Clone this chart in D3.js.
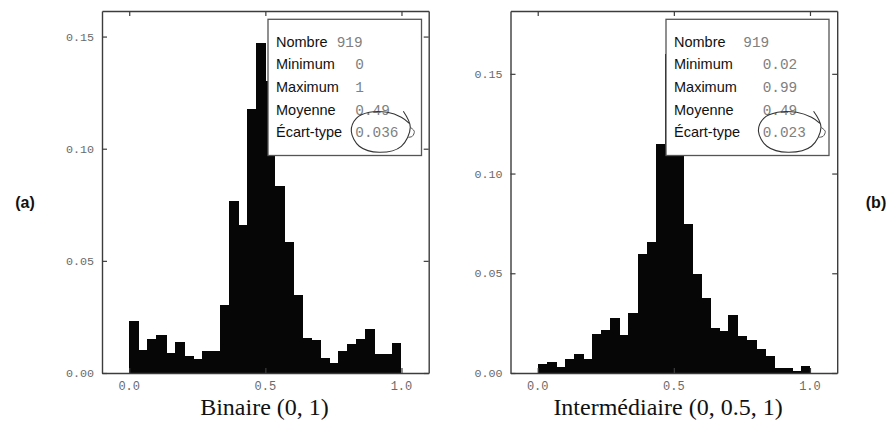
<!DOCTYPE html>
<html><head><meta charset="utf-8">
<script src="https://cdn.jsdelivr.net/npm/d3@7"></script>
<style>body{margin:0;background:#fff}svg{display:block}</style>
</head><body>
<script>
// ---- data ----
const binEdges = d3.range(0, 30).map(i => i / 30);
const binWidth = 1 / 30;
const valuesA = [0.023, 0.0104, 0.015, 0.017, 0.009, 0.014, 0.0076, 0.0064, 0.0096, 0.0096,
                 0.0304, 0.0767, 0.066, 0.1175, 0.147, 0.130, 0.0835, 0.0586, 0.0346, 0.0156,
                 0.0148, 0.0067, 0.0045, 0.0096, 0.013, 0.015, 0.0194, 0.0086, 0.0086, 0.0134];
const valuesB = [0.0043, 0.0055, 0.003, 0.007, 0.0095, 0.007, 0.0194, 0.0217, 0.0278, 0.0192,
                 0.030, 0.0595, 0.0655, 0.115, 0.160, 0.145, 0.0749, 0.0498, 0.0376, 0.0227,
                 0.021, 0.0293, 0.0184, 0.0164, 0.012, 0.0084, 0.0025, 0.0025, 0.001, 0.0033];
const xTicks = [0, 0.5, 1.0];
const xTickLabels = ["0.0", "0.5", "1.0"];
const yTicks = [0, 0.05, 0.10, 0.15];
const yTickLabels = ["0.00", "0.05", "0.10", "0.15"];
const statLabels = ["Nombre", "Minimum", "Maximum", "Moyenne", "Écart-type"];
const statsA = ["919", "0", "1", "0.49", "0.036"];
const statsB = ["919", "0.02", "0.99", "0.49", "0.023"];
const titleA = "Binaire (0, 1)";
const titleB = "Intermédiaire (0, 0.5, 1)";
const panelTags = ["(a)", "(b)"];

// ---- layout ----
const W = 893, H = 429;
const svg = d3.select("body").append("svg").attr("width", W).attr("height", H);

const panels = [
  {values: valuesA, stats: statsA, title: titleA, x0: 102, x1: 428.7, yMax: 0.1614,
   box: [268, 19.3, 421.5, 155.5], nombreX: 336.7, valX: 355.3, titleX: 264.5},
  {values: valuesB, stats: statsB, title: titleB, x0: 510.5, x1: 837.2, yMax: 0.1815,
   box: [666, 19.3, 829, 155.5], nombreX: 743.3, valX: 762.7, titleX: 668}
];
const plotTop = 11, plotBottom = 373;
const frameColor = "#3c3c3c";

panels.forEach((p, pi) => {
  const x = d3.scaleLinear().domain([-0.1, 1.1]).range([p.x0, p.x1]);
  const y = d3.scaleLinear().domain([0, p.yMax]).range([plotBottom, plotTop]);
  const g = svg.append("g");

  // bars (crisp, slightly overlapping so no seams appear between neighbours)
  g.selectAll("rect.bar").data(p.values).join("rect")
    .attr("class", "bar")
    .attr("shape-rendering", "crispEdges")
    .attr("x", (d, i) => Math.round(x(binEdges[i])))
    .attr("width", (d, i) => Math.round(x(binEdges[i] + binWidth)) - Math.round(x(binEdges[i])) + (i < p.values.length - 1 ? 1 : 0))
    .attr("y", d => Math.round(y(d)))
    .attr("height", d => Math.round(y(0)) - Math.round(y(d)))
    .attr("fill", "#060606");

  // frame with inward ticks using d3 axes
  const axB = d3.axisBottom(x).tickValues(xTicks).tickSize(-5).tickSizeOuter(0).tickFormat("");
  const axT = d3.axisTop(x).tickValues(xTicks).tickSize(-5).tickSizeOuter(0).tickFormat("");
  const axL = d3.axisLeft(y).tickValues(yTicks).tickSize(-5).tickSizeOuter(0).tickFormat("");
  const axR = d3.axisRight(y).tickValues(yTicks).tickSize(-5).tickSizeOuter(0).tickFormat("");
  [[axB, `translate(0,${plotBottom})`], [axT, `translate(0,${plotTop})`],
   [axL, `translate(${p.x0},0)`], [axR, `translate(${p.x1},0)`]].forEach(([ax, tr]) => {
    const a = g.append("g").attr("transform", tr).call(ax);
    a.select(".domain").attr("stroke", frameColor).attr("stroke-width", 1.4);
    a.selectAll(".tick line").attr("stroke", frameColor).attr("stroke-width", 1.2);
  });

  // tick labels
  g.selectAll("text.xt").data(xTicks).join("text")
    .attr("class", "xt")
    .attr("x", d => x(d)).attr("y", 390)
    .attr("text-anchor", "middle")
    .attr("font-family", "Liberation Mono, monospace").attr("font-size", 12)
    .attr("fill", "#6a6a6a")
    .text((d, i) => xTickLabels[i]);
  g.selectAll("text.yt").data(yTicks).join("text")
    .attr("class", "yt")
    .attr("x", p.x0 - 8).attr("y", d => y(d)).attr("dy", "0.35em")
    .attr("text-anchor", "end")
    .attr("font-family", "Liberation Mono, monospace").attr("font-size", 11.7)
    .attr("fill", "#6a6a6a")
    .text((d, i) => yTickLabels[i]);

  // stats box
  const [bx0, by0, bx1, by1] = p.box;
  g.append("rect").attr("x", bx0).attr("y", by0)
    .attr("width", bx1 - bx0).attr("height", by1 - by0)
    .attr("fill", "#fff").attr("stroke", "#555").attr("stroke-width", 1.3);
  const rowY = i => 46.5 + i * 22.7;
  statLabels.forEach((lab, i) => {
    g.append("text").attr("x", bx0 + 8).attr("y", rowY(i))
      .attr("font-family", "Liberation Sans, Arial, sans-serif").attr("font-size", 14.5)
      .attr("fill", "#111").text(lab);
    g.append("text").attr("x", i === 0 ? p.nombreX : p.valX).attr("y", rowY(i))
      .attr("font-family", "Liberation Mono, monospace").attr("font-size", 14.4)
      .attr("fill", "#808080").text(p.stats[i]);
  });

  // hand-drawn circle around standard deviation value
  const vx = p.valX, vy = rowY(4);
  const sx = pi === 0 ? 1 : 1.06;
  const loop = [[48, -26], [55, -10], [46, 9], [24, 15], [4, 9], [-4, -6], [1, -19],
                [14, -25], [32, -25], [46, -20], [54, -14]];
  const line = d3.line().curve(d3.curveCatmullRom.alpha(0.5))
    .x(d => vx + d[0] * sx).y(d => vy + d[1]);
  g.append("path").attr("d", line(loop)).attr("fill", "none")
    .attr("stroke", "#333").attr("stroke-width", 1.1);
  g.append("path").attr("d", line([[55, -10], [59, -6], [57, -1], [53, 0]]))
    .attr("fill", "none").attr("stroke", "#555").attr("stroke-width", 1);

  // axis title
  g.append("text").attr("x", p.titleX).attr("y", 415)
    .attr("text-anchor", "middle")
    .attr("font-family", "Liberation Serif, Times New Roman, serif").attr("font-size", 24)
    .attr("fill", "#111").text(p.title);
});

// panel tags
svg.append("text").attr("x", 25).attr("y", 208).attr("text-anchor", "middle")
  .attr("font-family", "Liberation Sans, Arial, sans-serif").attr("font-weight", "bold")
  .attr("font-size", 16).attr("fill", "#111").text(panelTags[0]);
svg.append("text").attr("x", 876).attr("y", 208).attr("text-anchor", "middle")
  .attr("font-family", "Liberation Sans, Arial, sans-serif").attr("font-weight", "bold")
  .attr("font-size", 16).attr("fill", "#111").text(panelTags[1]);
</script>
</body></html>
